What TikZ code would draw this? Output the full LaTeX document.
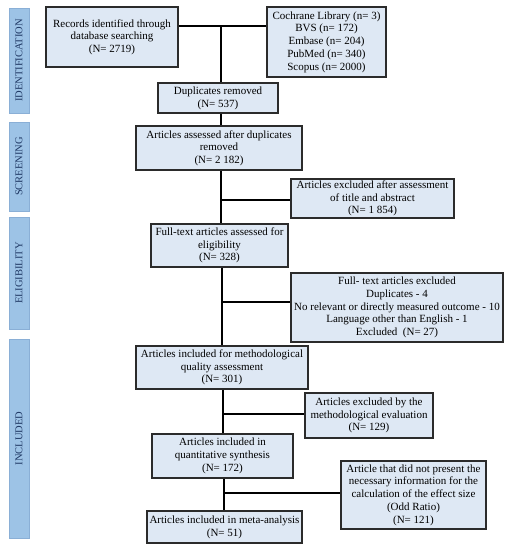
\documentclass[tikz,border=0pt]{standalone}
\usepackage{fontspec}
\setmainfont{Liberation Serif}
\definecolor{boxfill}{HTML}{DEE8F4}
\definecolor{boxline}{HTML}{2B2B2B}
\definecolor{barfill}{HTML}{9DC3E6}
\definecolor{barline}{HTML}{8AAFD6}
\definecolor{bartext}{HTML}{1F3864}
\begin{document}
\begin{tikzpicture}[x=1pt,y=-1pt,
  flowbox/.style={draw=boxline,fill=boxfill,line width=1.3pt,inner sep=0.5pt,align=center,font=\fontsize{11}{12.7}\selectfont,anchor=center},
  phasebar/.style={draw=barline,fill=barfill,line width=0.6pt,rotate=90,minimum height=20pt,inner sep=0pt,text=bartext,font=\fontsize{10.5}{12}\selectfont},
  conn/.style={draw=black,line width=2pt}]
\useasboundingbox (0,0) rectangle (509,550);
% phase bars
\node[phasebar,minimum width=105pt] (pid) at (19,60.5) {IDENTIFICATION};
\node[phasebar,minimum width=89pt] (psc) at (19,166.5) {SCREENING};
\node[phasebar,minimum width=112pt] (pel) at (19,273) {ELIGIBILITY};
\node[phasebar,minimum width=199pt] (pin) at (19,438.5) {INCLUDED};
% boxes
\node[flowbox,minimum width=132pt,minimum height=60pt] (rec) at (112,37) {Records identified through\\database searching\\(N= 2719)};
\node[flowbox,minimum width=119pt,minimum height=70pt] (src) at (326.5,42) {Cochrane Library (n= 3)\\BVS (n= 172)\\Embase (n= 204)\\PubMed (n= 340)\\Scopus (n= 2000)};
\node[flowbox,minimum width=120pt,minimum height=30pt] (dup) at (218,98) {Duplicates removed\\(N= 537)};
\node[flowbox,minimum width=166pt,minimum height=44pt] (ass) at (219,148) {Articles assessed after duplicates\\removed\\(N= 2 182)};
\node[flowbox,minimum width=163pt,minimum height=39pt] (exa) at (372.5,198.5) {Articles excluded after assessment\\of title and abstract\\(N= 1 854)};
\node[flowbox,minimum width=137pt,minimum height=43pt] (ft) at (219.5,245.5) {Full-text articles assessed for\\eligibility\\(N= 328)};
\node[flowbox,minimum width=212pt,minimum height=69pt] (exb) at (397,307.5) {Full- text articles excluded\\Duplicates - 4\\No relevant or directly measured outcome - 10\\Language other than English - 1\\Excluded~ (N= 27)};
\node[flowbox,minimum width=172pt,minimum height=43pt] (meth) at (222,367.5) {Articles included for methodological\\quality assessment\\(N= 301)};
\node[flowbox,minimum width=128pt,minimum height=45pt] (exc) at (369,415.5) {Articles excluded by the\\methodological evaluation\\(N= 129)};
\node[flowbox,minimum width=141pt,minimum height=44pt] (qs) at (222.5,456) {Articles included in\\quantitative synthesis\\(N= 172)};
\node[flowbox,minimum width=145pt,minimum height=68pt] (exd) at (413.5,495) {Article that did not present the\\necessary information for the\\calculation of the effect size\\(Odd Ratio)\\(N= 121)};
\node[flowbox,minimum width=155pt,minimum height=32pt] (meta) at (224.5,527) {Articles included in meta-analysis\\(N= 51)};
% junctions
\coordinate (j0) at (221,26);
\coordinate (j1) at (221,200);
\coordinate (j2) at (222,302);
\coordinate (j3) at (223,414);
\coordinate (j4) at (224,493);
% connectors
\draw[conn] (rec.east |- j0) -- (src.west |- j0);
\draw[conn] (j0) -- (j0 |- dup.north);
\draw[conn] (j0 |- dup.south) -- (j0 |- ass.north);
\draw[conn] (j1 |- ass.south) -- (j1 |- ft.north);
\draw[conn] (j1) -- (j1 -| exa.west);
\draw[conn] (j2 |- ft.south) -- (j2 |- meth.north);
\draw[conn] (j2) -- (j2 -| exb.west);
\draw[conn] (j3 |- meth.south) -- (j3 |- qs.north);
\draw[conn] (j3) -- (j3 -| exc.west);
\draw[conn] (j4 |- qs.south) -- (j4 |- meta.north);
\draw[conn] (j4) -- (j4 -| exd.west);
\end{tikzpicture}
\end{document}
